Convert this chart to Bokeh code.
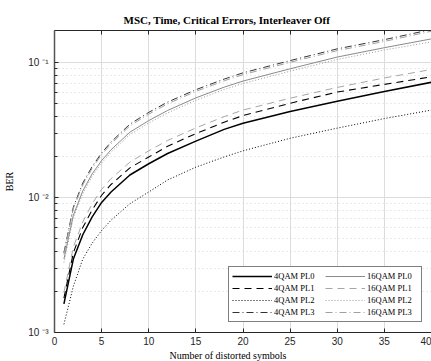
from bokeh.plotting import figure
from bokeh.models import (FixedTicker, CustomJSTickFormatter, LinearAxis, Legend,
                          LegendItem, Range1d, ColumnDataSource, Grid, Title)
from bokeh.embed import file_html
from bokeh.resources import INLINE

# ---- data ----
symbols = [1, 2, 3, 4, 5, 6, 8, 10, 12, 15, 18, 20, 25, 30, 35, 40]
qam4_pl0 = [0.00163, 0.0035, 0.0053, 0.0072, 0.0092, 0.011, 0.0147, 0.0178, 0.0212, 0.0262, 0.032, 0.0355, 0.0435, 0.0518, 0.061, 0.0715]
qam4_pl1 = [0.0018, 0.0039, 0.0060, 0.0081, 0.0104, 0.0125, 0.0166, 0.020, 0.0240, 0.0298, 0.0362, 0.0405, 0.0500, 0.0605, 0.069, 0.0785]
qam4_pl2 = [0.00115, 0.0022, 0.0035, 0.0046, 0.0057, 0.0068, 0.0090, 0.0110, 0.0135, 0.0168, 0.0200, 0.0222, 0.0275, 0.0327, 0.0385, 0.0445]
qam4_pl3 = [0.0039, 0.0085, 0.0128, 0.0170, 0.0214, 0.0258, 0.0350, 0.0428, 0.0510, 0.0630, 0.0755, 0.0840, 0.1035, 0.1265, 0.1480, 0.1760]
qam16_pl0 = [0.0035, 0.0074, 0.0112, 0.0150, 0.0188, 0.0226, 0.0305, 0.0372, 0.0442, 0.0548, 0.0658, 0.0730, 0.0900, 0.1100, 0.1290, 0.1500]
qam16_pl1 = [0.00198, 0.0043, 0.0066, 0.0090, 0.0115, 0.0138, 0.0183, 0.0222, 0.0265, 0.0328, 0.0398, 0.0445, 0.0545, 0.0655, 0.0770, 0.0890]
qam16_pl2 = [0.0033, 0.0071, 0.0107, 0.0144, 0.0180, 0.0217, 0.0293, 0.0357, 0.0424, 0.0526, 0.0632, 0.0700, 0.0864, 0.1055, 0.1240, 0.1425]
qam16_pl3 = [0.0038, 0.0083, 0.0124, 0.0165, 0.0208, 0.0250, 0.0340, 0.0415, 0.0495, 0.0612, 0.0733, 0.0815, 0.1005, 0.1228, 0.1436, 0.1710]

x_ticks = [0, 5, 10, 15, 20, 25, 30, 35, 40]
y_ticks = [1e-3, 1e-2, 1e-1]
y_minor = [k * 10.0 ** e for e in (-3, -2, -1) for k in range(2, 10)]

title = "MSC, Time, Critical Errors, Interleaver Off"
x_label = "Number of distorted symbols"
y_label = "BER"

series = [
    ("4QAM PL0", qam4_pl0, "#000000", "solid", 1.5),
    ("4QAM PL1", qam4_pl1, "#000000", "7 5", 1.1),
    ("4QAM PL2", qam4_pl2, "#000000", "1 2", 1.0),
    ("4QAM PL3", qam4_pl3, "#333333", "7 3 1 3", 1.0),
    ("16QAM PL0", qam16_pl0, "#8a8a8a", "solid", 1.0),
    ("16QAM PL1", qam16_pl1, "#a6a6a6", "7 5", 1.0),
    ("16QAM PL2", qam16_pl2, "#9a9a9a", "1 2", 1.0),
    ("16QAM PL3", qam16_pl3, "#a0a0a0", "7 3 1 3", 1.0),
]

SERIF = "Liberation Serif"
SANS = "Liberation Sans"
AX = "#262626"

p = figure(width=431, height=361, y_axis_type="log",
           x_range=Range1d(0, 40), y_range=Range1d(1e-3, 0.173),
           output_backend="svg", toolbar_location=None,
           min_border_left=54, min_border_right=0, min_border_top=30,
           min_border_bottom=29, x_axis_location=None)
p.outline_line_color = None
p.background_fill_color = "white"

p.title.text = title
p.title.text_font = SERIF
p.title.text_font_style = "bold"
p.title.text_font_size = "11px"
p.title.align = "left"
p.title.offset = 69
p.title.text_color = "#000000"

xb = LinearAxis(ticker=FixedTicker(ticks=x_ticks))
xt = LinearAxis(ticker=FixedTicker(ticks=x_ticks),
                formatter=CustomJSTickFormatter(code="return '';"))
for ax in (xb, xt):
    ax.major_tick_in = 4
    ax.major_tick_out = 0
    ax.minor_tick_in = 0
    ax.minor_tick_out = 0
    ax.axis_line_color = AX
    ax.major_tick_line_color = AX
    ax.major_label_text_font = SANS
    ax.major_label_text_font_size = "10px"
    ax.major_label_text_color = AX
xb.major_label_standoff = 4
xt.major_label_standoff = 0
p.add_layout(xb, "below")
p.add_layout(xt, "above")

xtitle = Title(text=x_label, align="left", offset=115, text_font=SERIF,
               text_font_size="10px", text_font_style="normal",
               text_color="#000000", standoff=0)
p.add_layout(xtitle, "below")

ya = p.yaxis[0]
ya.ticker = FixedTicker(ticks=y_ticks, minor_ticks=y_minor)
ya.formatter = CustomJSTickFormatter(code="""
const e = Math.round(Math.log10(tick));
const sup = {'-':'\u207b','0':'\u2070','1':'\u00b9','2':'\u00b2','3':'\u00b3'};
return '10 ' + String(e).split('').map(c => sup[c]).join('');
""")
ya.major_tick_in = 4
ya.major_tick_out = 0
ya.minor_tick_in = 3
ya.minor_tick_out = 0
ya.axis_line_color = "#555555"
ya.axis_line_width = 1.5
ya.major_tick_line_color = AX
ya.minor_tick_line_color = AX
ya.major_label_text_font = SANS
ya.major_label_text_font_size = "10px"
ya.major_label_text_color = AX
ya.major_label_standoff = 6
ya.axis_label = y_label
ya.axis_label_text_font = SERIF
ya.axis_label_text_font_size = "10px"
ya.axis_label_text_font_style = "normal"
ya.axis_label_text_color = "#000000"
ya.axis_label_standoff = 10

p.xgrid.visible = False
xg = Grid(dimension=0, ticker=xb.ticker, grid_line_color="#dcdcdc", grid_line_width=1)
p.add_layout(xg, "center")
p.ygrid.grid_line_color = "#dcdcdc"
p.ygrid.grid_line_width = 1
p.ygrid.minor_grid_line_color = "#d4d4d4"
p.ygrid.minor_grid_line_dash = "1 3"

items = []
for name, ys, color, dash, w in series:
    src = ColumnDataSource(dict(x=symbols, y=ys))
    r = p.line("x", "y", source=src, line_color=color, line_dash=dash, line_width=w)
    items.append(LegendItem(label=name, renderers=[r]))

legend = Legend(items=items, ncols=2, location=(174, 10),
                glyph_width=40, glyph_height=12, label_height=12, label_width=51,
                label_standoff=2, spacing=0, padding=3, margin=0,
                label_text_font=SERIF, label_text_font_size="8.5px",
                label_text_color="#000000",
                border_line_color="#000000", border_line_width=1,
                background_fill_alpha=1.0)
p.add_layout(legend, "center")

open("out.html", "w").write(file_html(p, INLINE))
